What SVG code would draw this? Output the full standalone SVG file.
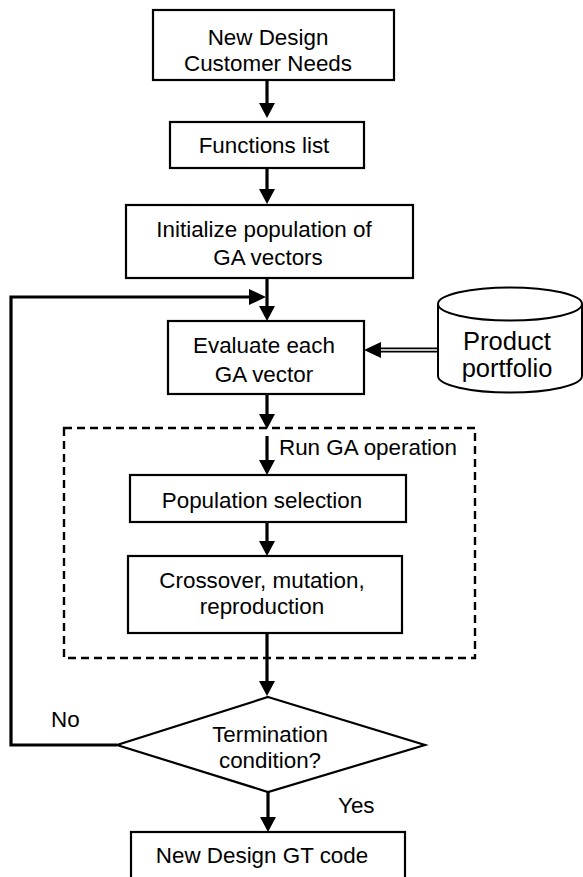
<svg xmlns="http://www.w3.org/2000/svg" width="583" height="877" viewBox="0 0 583 877">
<style>
.box{fill:#fff;stroke:#000;stroke-width:2.2}
.t{font-family:"Liberation Sans",Arial,sans-serif;font-size:22.4px;fill:#000;text-anchor:middle}
.lab{font-family:"Liberation Sans",Arial,sans-serif;font-size:22.4px;fill:#000}
.big{font-family:"Liberation Sans",Arial,sans-serif;font-size:25.5px;fill:#000;text-anchor:middle}
.ln{fill:none;stroke:#000;stroke-width:3.2}
.dash{fill:none;stroke:#000;stroke-width:2.4;stroke-dasharray:8 5}
.head{fill:#000}
</style>
<rect width="583" height="877" fill="#fff"/>
<g id="connectors">
  <path class="ln" d="M267 80 V104"/>
  <polygon class="head" points="259,103 275,103 267,118"/>
  <path class="ln" d="M267 168 V190"/>
  <polygon class="head" points="259,189 275,189 267,204"/>
  <path class="ln" d="M267 278 V307"/>
  <polygon class="head" points="259,306 275,306 267,321"/>
  <path class="ln" d="M117 745 H11 V297 H250" stroke-width="3.6"/>
  <polygon class="head" points="249,289 249,305 266,297"/>
  <path d="M438 350 H378" stroke="#000" stroke-width="5" fill="none"/>
  <path d="M437 350 H379" stroke="#fff" stroke-width="1.3" fill="none"/>
  <polygon class="head" points="381,342 381,358 364,350"/>
  <path class="ln" d="M267 394 V416"/>
  <polygon class="head" points="259,414 275,414 267,429"/>
  <path class="ln" d="M267 436 V462"/>
  <polygon class="head" points="259,460 275,460 267,475"/>
  <path class="ln" d="M267 522 V542"/>
  <polygon class="head" points="259,541 275,541 267,556"/>
  <path class="ln" d="M267 633 V682" stroke-width="3.6"/>
  <polygon class="head" points="259,681 275,681 267,696"/>
  <path class="ln" d="M268 792 V818" stroke-width="3.6"/>
  <polygon class="head" points="260,817 276,817 268,832"/>
</g>
<g id="ga-operation">
  <rect class="dash" x="64" y="428" width="411" height="230"/>
  <text class="lab" x="279" y="455">Run GA operation</text>
</g>
<g id="new-design">
  <rect class="box" x="153" y="10" width="241" height="70"/>
  <text class="t" x="268" y="45">New Design</text>
  <text class="t" x="268" y="71">Customer Needs</text>
</g>
<g id="functions-list">
  <rect class="box" x="170" y="122" width="194" height="46"/>
  <text class="t" x="264" y="153">Functions list</text>
</g>
<g id="initialize">
  <rect class="box" x="126" y="205" width="287" height="73"/>
  <text class="t" x="264" y="237">Initialize population of</text>
  <text class="t" x="268" y="265">GA vectors</text>
</g>
<g id="evaluate">
  <rect class="box" x="168" y="321" width="196" height="73"/>
  <text class="t" x="264" y="353">Evaluate each</text>
  <text class="t" x="264" y="382">GA vector</text>
</g>
<g id="product-portfolio">
  <path d="M438 304 V376 A72 16.5 0 0 0 582 376 V304" fill="#fff" stroke="#000" stroke-width="2"/>
  <ellipse cx="510" cy="304" rx="72" ry="16.5" fill="#fff" stroke="#000" stroke-width="2"/>
  <text class="big" x="507" y="350">Product</text>
  <text class="big" x="507" y="377">portfolio</text>
</g>
<g id="population-selection">
  <rect class="box" x="130" y="475" width="276" height="47"/>
  <text class="t" x="262" y="508">Population selection</text>
</g>
<g id="crossover">
  <rect class="box" x="128" y="556" width="274" height="77"/>
  <text class="t" x="262" y="588">Crossover, mutation,</text>
  <text class="t" x="262" y="614">reproduction</text>
</g>
<g id="termination">
  <polygon points="268,697 425,745 268,792 117,745" fill="#fff" stroke="#000" stroke-width="2.2"/>
  <text class="t" x="270" y="742">Termination</text>
  <text class="t" x="270" y="768">condition?</text>
  <text class="lab" x="51" y="727">No</text>
  <text class="lab" x="338" y="813">Yes</text>
</g>
<g id="gt-code">
  <rect class="box" x="131" y="832" width="274" height="60"/>
  <text class="t" x="262" y="863">New Design GT code</text>
</g>
</svg>
